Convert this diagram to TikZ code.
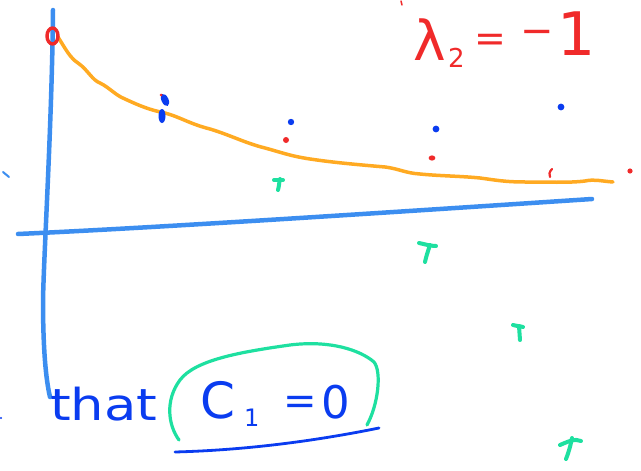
\documentclass[tikz,border=0pt]{standalone}
\usepackage{fontspec}
\setmainfont{DejaVu Sans}
\begin{document}
\begin{tikzpicture}[x=1pt,y=-1pt,line cap=round,line join=round]
\definecolor{axisblue}{HTML}{3C8EF0}
\definecolor{inkblue}{HTML}{0A3CF0}
\definecolor{inkred}{HTML}{F02A2A}
\definecolor{inkorange}{HTML}{FFAA22}
\definecolor{inkgreen}{HTML}{1EE0A0}
\tikzset{
  axis/.style={draw=axisblue,line width=4.5pt},
  curve/.style={draw=inkorange,line width=3.5pt},
  greenmark/.style={draw=inkgreen,line width=4pt},
  redtxt/.style={text=inkred,inner sep=0pt,anchor=base west},
  bluetxt/.style={text=inkblue,inner sep=0pt,anchor=base west}
}
\useasboundingbox (0,0) rectangle (641,471);
\fill[white] (0,0) rectangle (641,471);
% axes
\draw[axis] (53,10) .. controls (52,120) and (44,250) .. (43,300) .. controls (43,350) and (46,380) .. (50,397);
\draw[axis] (18,234) .. controls (150,228) and (350,215) .. (592,199);
\draw[draw=axisblue,line width=2pt] (3,172) -- (9,177);
\fill[inkblue] (1,418) circle (1.2);
% orange curve
\draw[curve] (58,37) .. controls (65,48) and (70,58) .. (78,63)
  .. controls (88,70) and (92,80) .. (100,83)
  .. controls (110,88) and (115,95) .. (125,99)
  .. controls (140,106) and (150,110) .. (165,113)
  .. controls (180,117) and (190,124) .. (210,129)
  .. controls (230,135) and (245,143) .. (265,148)
  .. controls (280,152) and (290,156) .. (310,159)
  .. controls (330,162) and (350,164) .. (385,167)
  .. controls (400,169) and (405,173) .. (420,174)
  .. controls (440,176) and (460,176) .. (480,178)
  .. controls (495,180) and (505,182) .. (525,182)
  .. controls (545,182) and (570,183) .. (585,181)
  .. controls (595,179) and (600,181) .. (613,182);
% red origin circle
\draw[inkred,line width=3.4pt] (52.5,36) ellipse (5.5 and 8);
% samples
\fill[inkblue,rotate around={25:(165,100)}] (165,100) ellipse (3.5 and 6.5);
\fill[inkblue] (162,116) ellipse (3.5 and 7);
\fill[inkred] (161,95) circle (1.5);
\fill[inkblue] (291,122) circle (3.2);
\fill[inkred] (286,140) circle (3);
\fill[inkblue] (436,129) circle (3.4);
\fill[inkred] (432,158) ellipse (3.4 and 2.6);
\fill[inkblue] (561,107) circle (3.4);
\draw[inkred,line width=2.2pt] (552,169) .. controls (549,172) and (549,175) .. (550,177);
\fill[inkred] (630,171) circle (2.6);
% green marks
\draw[greenmark] (274,180) -- (283,180);
\draw[greenmark] (280,179) .. controls (279,183) and (279,187) .. (278,190);
\draw[greenmark] (419,243) .. controls (424,244) and (430,246) .. (436,246);
\draw[greenmark] (430,245) .. controls (428,251) and (426,257) .. (425,262);
\draw[greenmark] (513,325) .. controls (516,326) and (520,326) .. (523,327);
\draw[greenmark] (519,326) -- (520,340);
\draw[greenmark] (560,445) .. controls (567,442) and (575,438) .. (581,441);
\draw[greenmark] (572,438) .. controls (570,448) and (568,454) .. (566,459);
% red lambda label
\draw[inkred,line width=1.5pt] (401,1) -- (402,5);
\node[redtxt] (lam) at (413,60) {\fontsize{55}{60}\selectfont λ};
\node[redtxt] (two) at (448,67) {\fontsize{26}{30}\selectfont 2};
\node[redtxt] (eqr) at (474,52) {\fontsize{38}{42}\selectfont =};
\node[redtxt] (mi) at (520,44) {\fontsize{40}{44}\selectfont −};
\node[redtxt] (one) at (557,55) {\fontsize{60}{64}\selectfont 1};
% bottom text
\node[bluetxt] (that) at (50,420) {\fontsize{44}{48}\selectfont\scalebox{1.2}[1]{that}};
\node[bluetxt] (c) at (200,418) {\fontsize{50}{54}\selectfont C};
\node[bluetxt] (sub1) at (244,426) {\fontsize{24}{28}\selectfont 1};
\node[bluetxt] (eqb) at (283,414) {\fontsize{40}{44}\selectfont =};
\node[bluetxt] (zero) at (321,418) {\fontsize{45}{50}\selectfont 0};
% green loop
\draw[inkgreen,line width=3.2pt] (179,440) .. controls (168,425) and (165,400) .. (180,380)
  .. controls (195,360) and (240,352) .. (290,345)
  .. controls (330,340) and (360,350) .. (374,362)
  .. controls (382,372) and (378,405) .. (367,425);
% underline
\draw[inkblue,line width=2.8pt] (175,452) .. controls (250,450) and (320,440) .. (379,428);
\end{tikzpicture}
\end{document}
